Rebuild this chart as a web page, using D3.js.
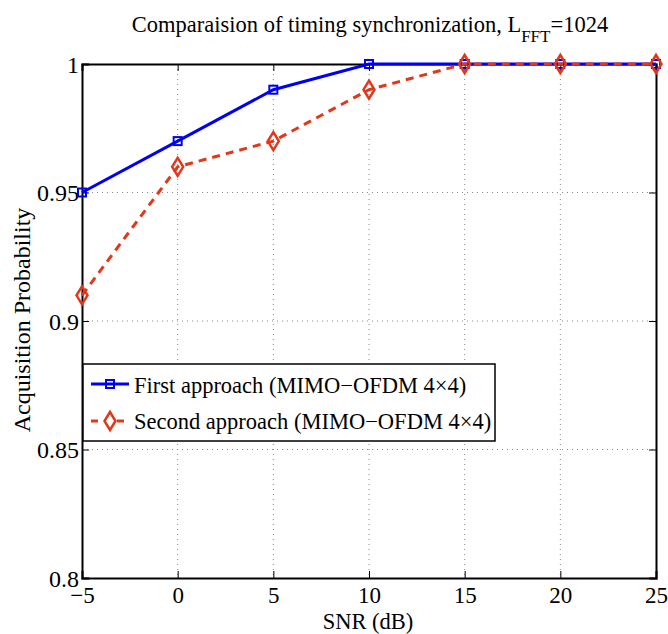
<!DOCTYPE html>
<html>
<head>
<meta charset="utf-8">
<script src="https://cdn.jsdelivr.net/npm/d3@7"></script>
<style>
  body { margin: 0; background: #fff; }
  svg, text { font-family: "Liberation Serif", "Times New Roman", serif; fill: #000; }
</style>
</head>
<body>
<svg id="chart" width="668" height="634"></svg>
<script>
const snr = [-5, 0, 5, 10, 15, 20, 25];
const firstApproach = [0.95, 0.97, 0.99, 1, 1, 1, 1];
const secondApproach = [0.91, 0.96, 0.97, 0.99, 1, 1, 1];
const xTicks = [-5, 0, 5, 10, 15, 20, 25];
const yTicks = [0.8, 0.85, 0.9, 0.95, 1];
const seriesNames = ["First approach (MIMO\u2212OFDM 4\u00d74)", "Second approach (MIMO\u2212OFDM 4\u00d74)"];

const svg = d3.select("#chart");
const plotLeft = 82, plotRight = 656, plotTop = 64, plotBottom = 578;

const x = d3.scaleLinear().domain([-5, 25]).range([plotLeft, plotRight]);
const y = d3.scaleLinear().domain([0.8, 1]).range([plotBottom, plotTop]);

// grid
const grid = svg.append("g").attr("stroke", "#888").attr("stroke-width", 1).attr("stroke-dasharray", "1,4");
grid.selectAll(".gx").data(xTicks.slice(1, -1)).join("line")
  .attr("x1", d => x(d)).attr("x2", d => x(d)).attr("y1", plotTop).attr("y2", plotBottom);
grid.selectAll(".gy").data(yTicks.slice(1, -1)).join("line")
  .attr("x1", plotLeft).attr("x2", plotRight).attr("y1", d => y(d)).attr("y2", d => y(d));

// axes
const fmtX = d => d < 0 ? "\u2212" + Math.abs(d) : String(d);
const fmtY = d => String(+d.toFixed(2));

const xAxis = svg.append("g").attr("transform", `translate(0,${plotBottom})`)
  .call(d3.axisBottom(x).tickValues(xTicks).tickSize(-7).tickFormat(fmtX));
const xTop = svg.append("g").attr("transform", `translate(0,${plotTop})`)
  .call(d3.axisTop(x).tickValues(xTicks).tickSize(-7).tickFormat(""));
const yAxis = svg.append("g").attr("transform", `translate(${plotLeft},0)`)
  .call(d3.axisLeft(y).tickValues(yTicks).tickSize(-7).tickPadding(3).tickFormat(fmtY));
const yRight = svg.append("g").attr("transform", `translate(${plotRight},0)`)
  .call(d3.axisRight(y).tickValues(yTicks).tickSize(-7).tickFormat(""));

[xAxis, xTop, yAxis, yRight].forEach(g => {
  g.attr("font-family", null);
  g.select(".domain").attr("stroke", "#000").attr("stroke-width", 2);
  g.selectAll(".tick line").attr("stroke", "#000").attr("stroke-width", 1);
  g.selectAll("text").style("font-family", "Liberation Serif").style("font-size", "24px").attr("fill", "#000");
});
xAxis.selectAll("text").attr("dy", null).attr("y", 25).style("font-size", "23px");
yAxis.selectAll("text").attr("dy", "0.34em");

// lines
const blue = "#0000f5", red = "#e2381a";
const line = d3.line().x((d, i) => x(snr[i])).y(d => y(d));

svg.append("path").datum(firstApproach)
  .attr("fill", "none").attr("stroke", blue).attr("stroke-width", 3).attr("d", line);
svg.append("path").datum(secondApproach)
  .attr("fill", "none").attr("stroke", red).attr("stroke-width", 3)
  .attr("stroke-dasharray", "8,6").attr("d", line);

const diamond = "M0,-9 L5.5,0 L0,9 L-5.5,0 Z";

svg.selectAll(".sq").data(firstApproach).join("rect")
  .attr("x", (d, i) => x(snr[i]) - 4).attr("y", d => y(d) - 4)
  .attr("width", 8).attr("height", 8)
  .attr("fill", "none").attr("stroke", blue).attr("stroke-width", 2);

svg.selectAll(".dm").data(secondApproach).join("path")
  .attr("transform", (d, i) => `translate(${x(snr[i])},${y(d)})`)
  .attr("d", diamond)
  .attr("fill", "none").attr("stroke", red).attr("stroke-width", 2.5);

// title
const title = svg.append("text").attr("x", 370).attr("y", 32).attr("text-anchor", "middle")
  .style("font-size", "22.5px");
title.append("tspan").text("Comparaision of timing synchronization, L");
title.append("tspan").attr("dy", 10).style("font-size", "17px").text("FFT");
title.append("tspan").attr("dy", -10).text("=1024");

// axis labels
svg.append("text").attr("x", 368).attr("y", 629).attr("text-anchor", "middle")
  .style("font-size", "22.5px").text("SNR (dB)");
svg.append("text").attr("transform", "translate(30,320) rotate(-90)").attr("text-anchor", "middle")
  .style("font-size", "24px").text("Acquisition Probability");

// legend
const lg = svg.append("g");
lg.append("rect").attr("x", 83).attr("y", 364).attr("width", 412).attr("height", 77)
  .attr("fill", "#fff").attr("stroke", "#000").attr("stroke-width", 1.5);
const rows = [
  { name: seriesNames[0], color: blue, dash: false, y: 384, ty: 393 },
  { name: seriesNames[1], color: red, dash: true, y: 421, ty: 429 }
];
rows.forEach((r, i) => {
  lg.append("line").attr("x1", 91).attr("x2", 129).attr("y1", r.y).attr("y2", r.y)
    .attr("stroke", r.color).attr("stroke-width", 3)
    .attr("stroke-dasharray", r.dash ? "7,6" : null);
  if (i === 0) {
    lg.append("rect").attr("x", 106).attr("y", r.y - 4).attr("width", 8).attr("height", 8)
      .attr("fill", "none").attr("stroke", r.color).attr("stroke-width", 2);
  } else {
    lg.append("path").attr("transform", `translate(110,${r.y})`).attr("d", diamond)
      .attr("fill", "#fff").attr("stroke", r.color).attr("stroke-width", 2.5);
  }
  lg.append("text").attr("x", 134).attr("y", r.ty).style("font-size", "22.5px").text(r.name);
});
</script>
</body>
</html>
